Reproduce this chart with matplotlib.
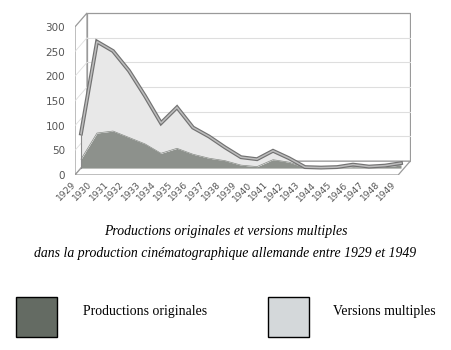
import matplotlib
matplotlib.use("Agg")
import matplotlib.pyplot as plt
from matplotlib.patches import Polygon, Rectangle
import numpy as np

# data
years = list(range(1929, 1950))
originales = [18, 71, 75, 62, 49, 30, 40, 28, 20, 15, 6, 3, 17, 12, 1, 0, 1, 3, 2, 3, 6]
totaux = [70, 256, 237, 197, 146, 91, 123, 82, 64, 42, 22, 18, 35, 20, 2, 1, 2, 7, 3, 5, 10]
versions = [t - o for t, o in zip(totaux, originales)]
yticks = [0, 50, 100, 150, 200, 250, 300]

titre1 = "Productions originales et versions multiples"
titre2 = "dans la production cinématographique allemande entre 1929 et 1949"
leg_labels = ["Productions originales", "Versions multiples"]

# colours
c_dark = "#8d918c"
c_light = "#e8e8e8"
c_leg_dark = "#646b63"
c_leg_light = "#d4d8da"
c_edge = "#9a9a9a"
c_grid = "#dedede"

# pseudo 3d depth (in data units)
DX, DY = 0.75, 28
x0, x1 = years[0], years[-1] + 0.2

fig = plt.figure(figsize=(4.51, 3.5), dpi=100)
ax = fig.add_axes([75 / 451, 175 / 350, 336 / 451, 163 / 350])
ax.set_xlim(years[0], years[-1] + 1)
ax.set_ylim(0, 330)
for s in ax.spines.values():
    s.set_visible(False)

# back wall + grid
ax.add_patch(Rectangle((x0 + DX, DY), x1 - x0, 300, facecolor="white",
                       edgecolor=c_edge, lw=0.9, zorder=1))
for v in yticks[1:-1]:
    ax.plot([x0 + DX, x1 + DX], [v + DY, v + DY], color=c_grid, lw=0.8, zorder=1.5)
# left side wall
ax.add_patch(Polygon([(x0, 0), (x0, 300), (x0 + DX, 300 + DY), (x0 + DX, DY)],
                     closed=True, facecolor="white", edgecolor=c_edge, lw=0.9, zorder=1))
for v in yticks[1:-1]:
    ax.plot([x0, x0 + DX], [v, v + DY], color=c_grid, lw=0.6, zorder=1.5)
# floor
ax.add_patch(Polygon([(x0, 0), (x1, 0), (x1 + DX, DY), (x0 + DX, DY)],
                     closed=True, facecolor="white", edgecolor=c_edge, lw=0.9, zorder=1))

# series, drawn at mid depth
xs = np.array(years) + DX / 2
base = DY / 2
orig = np.array(originales)
tot = orig + np.array(versions)
ax.fill_between(xs, base, base + orig, color=c_dark, lw=0, zorder=3)
ax.fill_between(xs, base + orig, base + tot, color=c_light, lw=0, zorder=3)
ax.plot(xs, base + orig, color="#858984", lw=0.5, zorder=4)
ax.plot(xs, base + tot, color="#727272", lw=2.8, zorder=4, solid_joinstyle="miter")
ax.plot(xs, base + tot, color="#bdbdbd", lw=1.1, zorder=5, solid_joinstyle="miter")
ax.plot([xs[0], xs[0]], [base, base + tot[0]], color="#8a8a8a", lw=0.8, zorder=4)

# ticks
ax.set_yticks(yticks)
ax.set_yticklabels([str(v) for v in yticks])
ax.set_xticks(years)
ax.set_xticklabels([str(y) for y in years], rotation=45, ha="right",
                   va="center", rotation_mode="anchor")
ax.tick_params(axis="y", length=0, pad=7, labelsize=7.5, labelcolor="#555555")
ax.tick_params(axis="x", length=0, pad=6, labelsize=6.6, labelcolor="#555555")

# caption
fig.text(0.5, 1 - 231 / 350, titre1, ha="center", va="center",
         family="Liberation Serif", style="italic", fontsize=9.9)
fig.text(0.5, 1 - 254 / 350, titre2, ha="center", va="center",
         family="Liberation Serif", style="italic", fontsize=9.9)

# legend
for (lx, col, lab, tx) in [(16, c_leg_dark, leg_labels[0], 83),
                           (268, c_leg_light, leg_labels[1], 333)]:
    fig.add_artist(Rectangle((lx / 451, 1 - 337 / 350), 41 / 451, 40 / 350,
                             transform=fig.transFigure, facecolor=col,
                             edgecolor="black", lw=1.0))
    fig.text(tx / 451, 1 - 312 / 350, lab, ha="left", va="center",
             family="Liberation Serif", fontsize=9.9)

fig.savefig("out.png", dpi=100, facecolor="white")
